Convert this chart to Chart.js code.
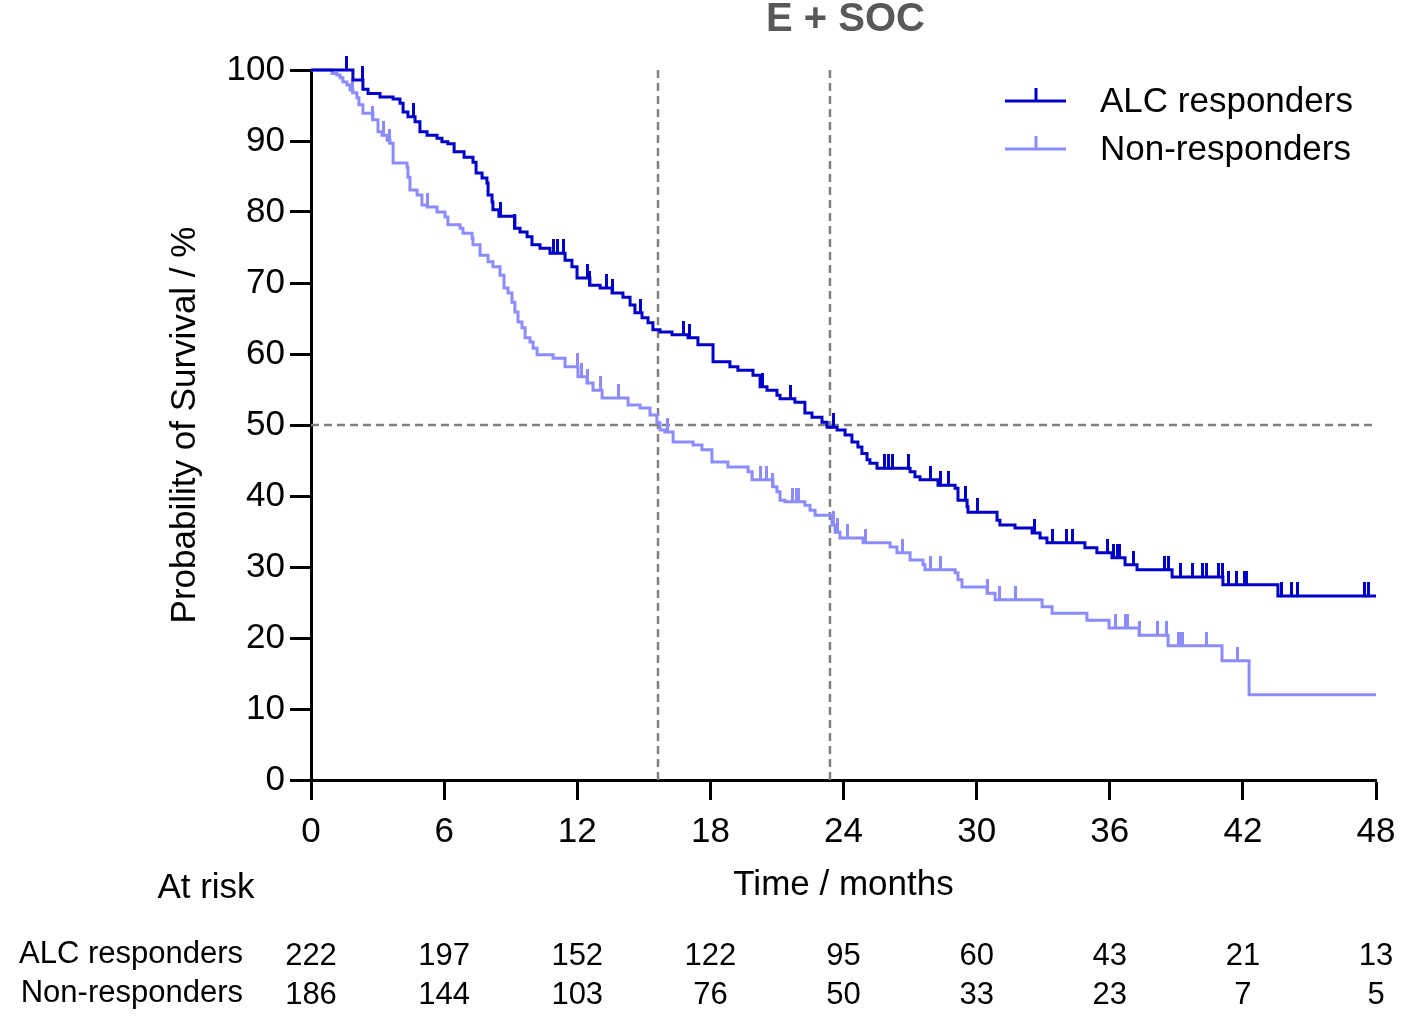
<!DOCTYPE html>
<html>
<head>
<meta charset="utf-8">
<script src="https://cdn.jsdelivr.net/npm/chart.js@4.4.1/dist/chart.umd.min.js"></script>
<style>
  html, body { margin: 0; padding: 0; background: #ffffff; }
  canvas { display: block; }
</style>
</head>
<body>
<canvas id="km" width="1416" height="1033"></canvas>
<script>
// ---------------- DATA ----------------
const chartTitle = 'E + SOC';
const seriesNames = ['ALC responders', 'Non-responders'];

// ALC responders: event times (months) and survival (%) after each step
const alcTimes = [0, 1.89, 2.34, 2.57, 3.11, 3.70, 4.01, 4.15, 4.37, 4.69, 4.91, 5.23, 5.68, 5.90, 6.17, 6.45, 6.90, 7.30, 7.44, 7.71, 7.93, 7.98, 8.16, 8.20, 8.47, 9.19, 9.42, 9.74, 9.96, 10.32, 10.77, 11.45, 11.76, 11.99, 12.57, 13.03, 13.57, 14.06, 14.38, 14.60, 14.92, 15.19, 15.41, 15.73, 16.27, 16.99, 17.44, 18.12, 18.88, 19.24, 19.92, 20.24, 20.55, 21.00, 21.14, 21.81, 22.26, 22.58, 23.03, 23.26, 23.71, 24.07, 24.38, 24.65, 24.83, 25.06, 25.19, 25.51, 27.00, 27.22, 27.45, 28.26, 29.03, 29.16, 29.57, 29.61, 30.92, 31.05, 31.73, 32.50, 32.86, 33.17, 34.88, 35.42, 36.10, 36.69, 37.23, 38.81, 41.10, 43.58, 48];
const alcSurv  = [100, 98.6, 97.3, 96.7, 96.2, 95.9, 95.3, 94.1, 93.4, 92.7, 91.3, 90.8, 90.4, 89.9, 89.6, 88.5, 87.7, 87.0, 85.5, 84.8, 84.1, 82.4, 81.4, 80.3, 79.4, 77.7, 77.2, 76.5, 75.4, 74.9, 74.2, 73.2, 72.3, 70.7, 69.7, 69.3, 68.6, 68.0, 66.9, 65.8, 65.1, 64.4, 63.4, 63.1, 62.7, 62.3, 61.3, 58.9, 58.2, 57.7, 57.0, 55.4, 54.9, 54.2, 53.7, 53.2, 51.7, 51.1, 50.4, 49.7, 49.3, 48.6, 47.6, 46.9, 46.0, 45.1, 44.6, 43.9, 43.4, 42.7, 42.3, 41.5, 41.1, 39.4, 38.5, 37.7, 36.6, 35.9, 35.5, 34.8, 34.1, 33.4, 32.7, 32.0, 31.3, 30.3, 29.6, 28.6, 27.5, 25.9, 25.9];
const alcCensored = [1.62, 2.30, 4.60, 8.52, 9.19, 10.91, 11.13, 11.36, 12.44, 12.57, 13.34, 13.57, 14.83, 16.77, 17.08, 20.33, 21.59, 23.53, 25.87, 26.01, 26.23, 26.91, 27.90, 28.35, 28.71, 29.48, 30.02, 32.63, 33.44, 34.07, 34.30, 35.88, 36.15, 36.37, 36.46, 37.05, 38.49, 38.63, 39.17, 39.75, 40.20, 40.38, 40.88, 41.06, 41.33, 41.73, 42.09, 42.18, 43.76, 44.21, 44.48, 47.50, 47.64];

// Non-responders
const nonTimes = [0, 0.95, 1.17, 1.31, 1.44, 1.62, 1.76, 1.89, 2.07, 2.16, 2.34, 2.79, 3.02, 3.20, 3.43, 3.56, 3.70, 4.33, 4.37, 4.46, 4.78, 5.00, 5.23, 5.68, 6.04, 6.17, 6.72, 6.85, 7.26, 7.30, 7.62, 7.98, 8.20, 8.52, 8.70, 8.88, 9.06, 9.19, 9.33, 9.51, 9.65, 9.87, 10.01, 10.19, 10.91, 11.45, 12.03, 12.44, 12.71, 13.12, 14.29, 14.83, 15.28, 15.59, 15.73, 15.95, 16.32, 17.22, 17.62, 18.07, 18.79, 19.70, 19.88, 20.82, 21.00, 21.14, 21.36, 22.26, 22.49, 22.72, 23.48, 23.62, 23.84, 24.88, 26.10, 26.41, 27.00, 27.58, 27.67, 29.03, 29.16, 29.34, 30.47, 30.83, 32.95, 33.40, 34.97, 35.97, 37.32, 38.63, 41.06, 42.28, 48];
const nonSurv  = [100, 99.5, 99.3, 98.9, 98.3, 97.9, 97.2, 96.8, 96.1, 95.1, 93.9, 93.0, 91.3, 90.8, 90.1, 89.7, 86.9, 86.3, 84.9, 83.1, 82.4, 81.0, 80.7, 80.0, 79.3, 78.2, 77.7, 77.0, 76.3, 75.4, 73.9, 73.0, 72.3, 71.1, 69.3, 68.6, 67.3, 65.9, 64.5, 63.7, 62.3, 61.7, 60.8, 59.9, 59.4, 58.2, 56.8, 55.9, 54.9, 53.8, 52.8, 52.4, 51.4, 50.3, 49.3, 49.0, 47.6, 47.2, 46.5, 44.8, 44.1, 43.4, 42.3, 41.3, 40.6, 39.4, 39.2, 38.7, 38.0, 37.3, 35.9, 34.9, 34.1, 33.4, 32.8, 32.0, 31.0, 30.3, 29.6, 29.2, 28.2, 27.2, 26.3, 25.4, 24.4, 23.5, 22.5, 21.4, 20.4, 18.9, 16.8, 12.0, 12.0];
const nonCensored = [1.89, 2.79, 3.25, 3.56, 5.23, 11.99, 12.21, 12.44, 13.03, 13.84, 16.09, 20.24, 20.55, 20.82, 21.68, 21.90, 21.99, 23.53, 23.71, 24.16, 24.97, 26.68, 27.90, 28.35, 30.47, 30.51, 31.05, 31.73, 36.28, 36.69, 36.78, 37.32, 38.13, 38.58, 39.08, 39.17, 39.30, 40.38, 41.78];

// Median survival reference lines (months) and 50% level
const medianNon = 15.64;
const medianALC = 23.39;
const halfLevel = 50;

// Axes
const xTicks = [0, 6, 12, 18, 24, 30, 36, 42, 48];
const yTicks = [0, 10, 20, 30, 40, 50, 60, 70, 80, 90, 100];

// Numbers at risk
const riskTimes = [0, 6, 12, 18, 24, 30, 36, 42, 48];
const riskALC = [222, 197, 152, 122, 95, 60, 43, 21, 13];
const riskNon = [186, 144, 103, 76, 50, 33, 23, 7, 5];

// ---------------- STYLE ----------------
const FONT = "'Liberation Sans', Arial, Helvetica, sans-serif";
const colALC = '#0000C8';
const colNon = '#8C8CFF';
const colRef = '#808080';

function stepAt(times, surv, t) {
  let v = surv[0];
  for (let i = 0; i < times.length; i++) { if (times[i] <= t) v = surv[i]; else break; }
  return v;
}
function censorMark(color) {
  const c = document.createElement('canvas');
  c.width = 3; c.height = 28;
  const g = c.getContext('2d');
  g.fillStyle = color;
  g.fillRect(0, 0, 3, 15);
  return c;
}
const toXY = (ts, vs) => ts.map((t, i) => ({x: t, y: vs[i]}));

const overlay = {
  id: 'overlay',
  afterDraw(chart) {
    const ctx = chart.ctx;
    const xs = chart.scales.x;
    const area = chart.chartArea;
    ctx.save();
    // Title
    ctx.fillStyle = '#595959';
    ctx.font = 'bold 40px ' + FONT;
    ctx.textAlign = 'center';
    ctx.textBaseline = 'middle';
    ctx.fillText(chartTitle, (area.left + area.right) / 2 + 2, 20);

    // Legend
    const legendItems = [[seriesNames[0], colALC, 101], [seriesNames[1], colNon, 149]];
    legendItems.forEach(([label, col, y]) => {
      ctx.strokeStyle = col;
      ctx.lineWidth = 3;
      ctx.beginPath();
      ctx.moveTo(1005, y); ctx.lineTo(1066, y);
      ctx.moveTo(1036, y); ctx.lineTo(1036, y - 13);
      ctx.stroke();
      ctx.fillStyle = '#000';
      ctx.font = '35px ' + FONT;
      ctx.textAlign = 'left';
      ctx.textBaseline = 'middle';
      ctx.fillText(label, 1100, y + 1);
    });

    // At risk table
    ctx.fillStyle = '#000';
    ctx.font = '35px ' + FONT;
    ctx.textAlign = 'center';
    ctx.textBaseline = 'middle';
    ctx.fillText('At risk', 206, 888);
    ctx.font = '31px ' + FONT;
    ctx.textAlign = 'right';
    ctx.fillText(seriesNames[0], 243, 954);
    ctx.fillText(seriesNames[1], 243, 993);
    ctx.textAlign = 'center';
    riskTimes.forEach((t, i) => {
      const px = xs.getPixelForValue(t);
      ctx.fillText(String(riskALC[i]), px, 956);
      ctx.fillText(String(riskNon[i]), px, 995);
    });
    ctx.restore();
  }
};

new Chart(document.getElementById('km'), {
  type: 'line',
  data: {
    datasets: [
      {
        label: seriesNames[0],
        data: toXY(alcTimes, alcSurv),
        stepped: 'before',
        borderColor: colALC,
        borderWidth: 3,
        pointRadius: 0,
        fill: false,
        clip: false,
        order: 1
      },
      {
        label: seriesNames[1],
        data: toXY(nonTimes, nonSurv),
        stepped: 'before',
        borderColor: colNon,
        borderWidth: 3,
        pointRadius: 0,
        fill: false,
        clip: false,
        order: 2
      },
      {
        label: 'ALC censored',
        data: alcCensored.map(t => ({x: t, y: stepAt(alcTimes, alcSurv, t)})),
        showLine: false,
        pointStyle: censorMark(colALC),
        pointRadius: 3,
        clip: false,
        order: 1
      },
      {
        label: 'Non censored',
        data: nonCensored.map(t => ({x: t, y: stepAt(nonTimes, nonSurv, t)})),
        showLine: false,
        pointStyle: censorMark(colNon),
        pointRadius: 3,
        clip: false,
        order: 2
      },
      {
        label: 'median non',
        data: [{x: medianNon, y: 0}, {x: medianNon, y: 100}],
        borderColor: colRef, borderWidth: 2.5, borderDash: [8, 5], pointRadius: 0, order: 10
      },
      {
        label: 'median alc',
        data: [{x: medianALC, y: 0}, {x: medianALC, y: 100}],
        borderColor: colRef, borderWidth: 2.5, borderDash: [8, 5], pointRadius: 0, order: 10
      },
      {
        label: '50 percent',
        data: [{x: 0, y: halfLevel}, {x: 48, y: halfLevel}],
        borderColor: colRef, borderWidth: 2.5, borderDash: [8, 5], pointRadius: 0, order: 10
      }
    ]
  },
  options: {
    responsive: false,
    animation: false,
    layout: { padding: { left: 0, top: 70, right: 40, bottom: 0 } },
    plugins: {
      legend: { display: false },
      title: { display: false },
      tooltip: { enabled: false }
    },
    scales: {
      x: {
        type: 'linear',
        min: 0, max: 48,
        afterBuildTicks: s => { s.ticks = xTicks.map(v => ({value: v})); },
        afterFit: s => { s.height = 253; },
        grid: { display: true, drawOnChartArea: false, drawTicks: true, tickLength: 20, tickColor: '#000', tickWidth: 3 },
        border: { display: true, color: '#000', width: 3 },
        ticks: { color: '#000', font: { family: FONT, size: 35 }, padding: 11, maxRotation: 0 },
        title: { display: true, text: 'Time / months', color: '#000', font: { family: FONT, size: 35 }, padding: { top: 0, bottom: 127 } }
      },
      y: {
        type: 'linear',
        min: 0, max: 100,
        afterBuildTicks: s => { s.ticks = yTicks.map(v => ({value: v})); },
        afterFit: s => { s.width = 311; },
        grid: { display: true, drawOnChartArea: false, drawTicks: true, tickLength: 21, tickColor: '#000', tickWidth: 3 },
        border: { display: true, color: '#000', width: 3 },
        ticks: { color: '#000', font: { family: FONT, size: 35 }, padding: 5 },
        title: { display: true, text: 'Probability of Survival / %', color: '#000', font: { family: FONT, size: 35 }, padding: { top: 164, bottom: 0 } }
      }
    }
  },
  plugins: [overlay]
});
</script>
</body>
</html>
